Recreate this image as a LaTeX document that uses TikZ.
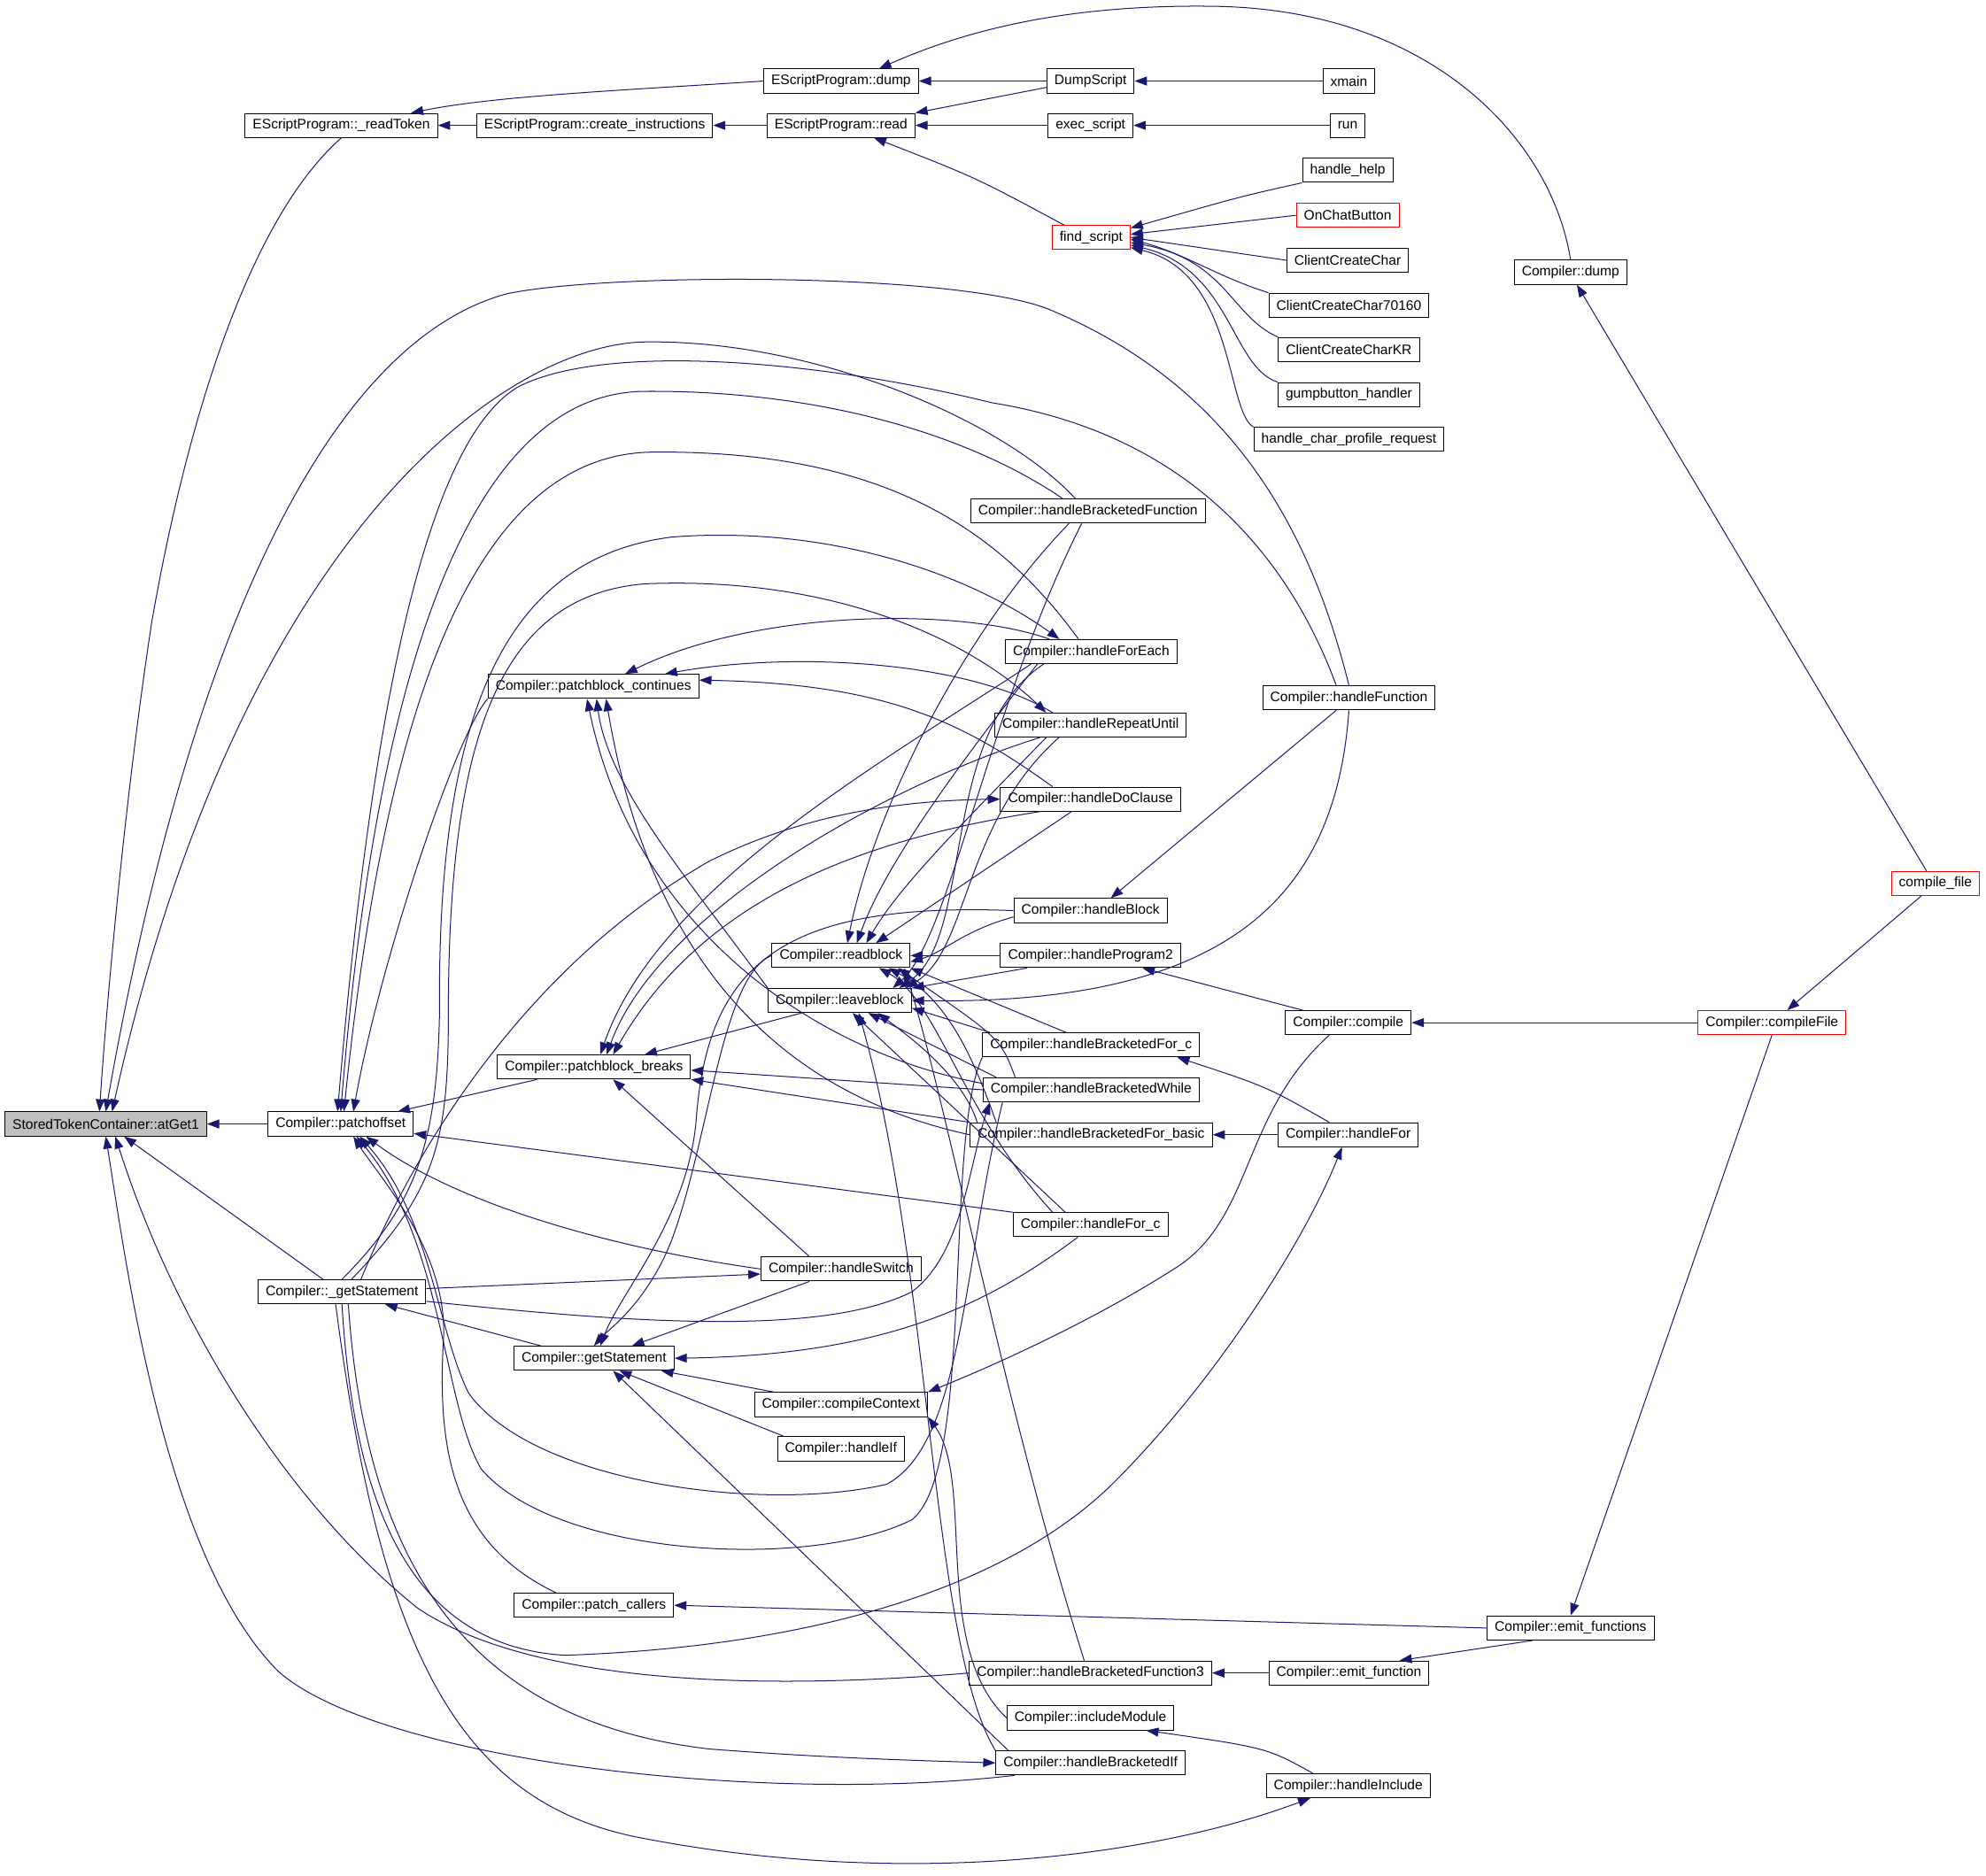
\documentclass[tikz,border=0pt]{standalone}
\usepackage{fontspec}
\setmainfont{Liberation Sans}
\usetikzlibrary{arrows.meta}
\definecolor{edgeblue}{RGB}{25,25,112}
\tikzset{
  fn/.style={draw=black, line width=0.4pt, rectangle, minimum height=0.38cm, inner xsep=0.12cm, inner ysep=0pt, font=\fontsize{6.2}{7}\selectfont},
  fnred/.style={fn, draw=red},
  fnroot/.style={fn, fill=black!25},
  call/.style={->, draw=edgeblue, line width=0.4pt},
}

\begin{document}
\begin{tikzpicture}[x=0.02cm, y=-0.02cm, >={Triangle[length=5.5pt, width=4pt]}]
\useasboundingbox (0,0) rectangle (1568,1481);
% functions
\node[fnroot] (atg) at (83.5,887.5) {StoredTokenContainer::atGet1};
\node[fn] (po) at (269,887.5) {Compiler::patchoffset};
\node[fn] (rt) at (269.5,99) {EScriptProgram::\_readToken};
\node[fn] (ci) at (469.5,99) {EScriptProgram::create\_instructions};
\node[fn] (ed) at (664,64) {EScriptProgram::dump};
\node[fn] (er) at (664,99) {EScriptProgram::read};
\node[fn] (ds) at (861,64) {DumpScript};
\node[fn] (xm) at (1065,64) {xmain};
\node[fn] (ex) at (861,99) {exec\_script};
\node[fn] (rn) at (1064,99) {run};
\node[fnred] (fs) at (861.5,187.5) {find\_script};
\node[fn] (hh) at (1064,134.5) {handle\_help};
\node[fnred] (oc) at (1064,170) {OnChatButton};
\node[fn] (c1) at (1064,205.5) {ClientCreateChar};
\node[fn] (c2) at (1065,241) {ClientCreateChar70160};
\node[fn] (c3) at (1065,276) {ClientCreateCharKR};
\node[fn] (gb) at (1065,311.5) {gumpbutton\_handler};
\node[fn] (hcp) at (1065,347) {handle\_char\_profile\_request};
\node[fn] (cd) at (1240,215) {Compiler::dump};
\node[fnred] (cf) at (1528,697.5) {compile\_file};
\node[fnred] (cff) at (1399,807.5) {Compiler::compileFile};
\node[fn] (cmp) at (1064.5,807.5) {Compiler::compile};
\node[fn] (hbf) at (859,403.5) {Compiler::handleBracketedFunction};
\node[fn] (hfe) at (861.5,514.5) {Compiler::handleForEach};
\node[fn] (pbc) at (468.5,542) {Compiler::patchblock\_continues};
\node[fn] (hru) at (861,572.5) {Compiler::handleRepeatUntil};
\node[fn] (hfn) at (1065,551) {Compiler::handleFunction};
\node[fn] (hdc) at (861,631) {Compiler::handleDoClause};
\node[fn] (hbl) at (861,719) {Compiler::handleBlock};
\node[fn] (rb) at (664,754.5) {Compiler::readblock};
\node[fn] (hpg) at (861,754.5) {Compiler::handleProgram2};
\node[fn] (lb) at (663,790) {Compiler::leaveblock};
\node[fn] (hbc) at (861.5,825) {Compiler::handleBracketedFor\_c};
\node[fn] (pbb) at (469,842.5) {Compiler::patchblock\_breaks};
\node[fn] (hbw) at (861.5,860.5) {Compiler::handleBracketedWhile};
\node[fn] (hbb) at (861.5,896) {Compiler::handleBracketedFor\_basic};
\node[fn] (hfr) at (1064.5,896) {Compiler::handleFor};
\node[fn] (hfc) at (861,967) {Compiler::handleFor\_c};
\node[fn] (hsw) at (664,1002) {Compiler::handleSwitch};
\node[fn] (ugs) at (270,1020) {Compiler::\_getStatement};
\node[fn] (gs) at (469,1072.5) {Compiler::getStatement};
\node[fn] (cctx) at (664,1109) {Compiler::compileContext};
\node[fn] (hif) at (664,1144) {Compiler::handleIf};
\node[fn] (pc) at (469,1267.5) {Compiler::patch\_callers};
\node[fn] (efs) at (1240,1285.5) {Compiler::emit\_functions};
\node[fn] (hb3) at (861,1321) {Compiler::handleBracketedFunction3};
\node[fn] (ef) at (1065,1321) {Compiler::emit\_function};
\node[fn] (im) at (861,1356.5) {Compiler::includeModule};
\node[fn] (hbi) at (861,1392) {Compiler::handleBracketedIf};
\node[fn] (hin) at (1064.5,1410) {Compiler::handleInclude};
%
% script side
\draw[call] (ci) -- (rt);
\draw[call] (er) -- (ci);
\draw[call] (ed.west) .. controls (480,72) and (390,76) .. ([xshift=1.1cm]rt.north);
\draw[call] (ds) -- (ed);
\draw[call] ([yshift=-0.1cm]ds.west) .. controls (780,78) .. (er.north east);
\draw[call] (xm) -- (ds);
\draw[call] (ex) -- (er);
\draw[call] (rn) -- (ex);
\draw[call] ([xshift=-0.43cm]fs.north) .. controls (770,140) .. ([xshift=0.52cm]er.south);
\draw[call] (hh.south west) .. controls (980,155) .. ([yshift=0.15cm]fs.east);
\draw[call] (oc.west) -- ([yshift=0.05cm]fs.east);
\draw[call] (c1.west) -- (fs.east);
\draw[call] (c2.north west) .. controls (960,218) and (935,200) .. ([yshift=-0.03cm]fs.east);
\draw[call] (c3.north west) .. controls (972,250) and (968,205) .. ([yshift=-0.08cm]fs.east);
\draw[call] (gb.north west) .. controls (972,290) and (972,212) .. ([yshift=-0.12cm]fs.east);
\draw[call] (hcp.north west) .. controls (968,325) and (975,215) .. ([yshift=-0.16cm]fs.east);
\draw[call] (cd.north) .. controls (1225,110) and (1130,8) .. (960,5) .. controls (840,3) and (760,25) .. ([xshift=0.6cm]ed.north);
\draw[call] ([xshift=-0.14cm]cf.north) -- ([xshift=0.1cm]cd.south);
\draw[call] ([xshift=-0.22cm]cf.south) -- ([xshift=0.24cm]cff.north);
\draw[call] (cff) -- (cmp);
\draw[call] (cff.south) -- (efs.north);
\draw[call] (efs.west) -- (pc.east);
\draw[call] ([xshift=-0.6cm]efs.south) -- ([xshift=0.8cm]ef.north);
\draw[call] (ef) -- (hb3);
\draw[call] ([xshift=-0.56cm]hin.north) .. controls (1000,1380) .. ([xshift=0.88cm]im.south);
\draw[call] (im.west) .. controls (735,1300) and (770,1170) .. (cctx.south east);
\draw[call] ([xshift=-0.3cm]cmp.south) .. controls (980,880) and (990,960) .. (930,1000) .. controls (860,1045) and (780,1080) .. (cctx.north east);
\draw[call] ([xshift=-0.72cm]cmp.north) -- ([xshift=0.82cm]hpg.south);
\draw[call] (hfr) -- (hbb);
\draw[call] ([xshift=-0.3cm]hfr.north) .. controls (1000,858) .. ([xshift=1.36cm]hbc.south);
\draw[call] ([xshift=-0.2cm]hfn.south) -- ([xshift=0.32cm]hbl.north);
\draw[call] (hfn.south) .. controls (1055,700) and (980,794) .. (lb.east);
%
% atGet1
\draw[call] (po) -- (atg);
\draw[call] (rt.south) .. controls (200,170) and (150,320) .. (120,490) .. controls (100,620) and (85,780) .. ([xshift=-0.1cm]atg.north);
\draw[call] (hfn.north) .. controls (1030,400) and (960,300) .. (830,245) .. controls (760,215) and (480,215) .. (400,232) .. controls (260,270) and (150,500) .. (atg.north);
\draw[call] ([xshift=-0.2cm]hbf.north) .. controls (790,330) and (640,268) .. (509,270) .. controls (400,272) and (190,420) .. ([xshift=0.1cm]atg.north);
\draw[call] ([xshift=-0.3cm]ugs.north) -- ([xshift=0.29cm]atg.south);
\draw[call] ([xshift=-1.2cm]hbi.south) .. controls (600,1425) and (300,1390) .. (220,1320) .. controls (130,1230) and (100,1000) .. (atg.south);
\draw[call] (hb3.west) .. controls (600,1335) and (420,1330) .. (330,1270) .. controls (230,1190) and (140,1050) .. ([xshift=0.15cm]atg.south);
%
% patchoffset
\draw[call] ([xshift=-0.2cm]hfn.north) .. controls (1010,420) and (920,340) .. (783,318) .. controls (650,285) and (480,270) .. (410,305) .. controls (330,350) and (290,600) .. ([xshift=-0.05cm]po.north);
\draw[call] ([xshift=-0.4cm]hbf.north) .. controls (760,340) and (640,308) .. (509,309) .. controls (380,310) and (300,500) .. (po.north);
\draw[call] ([xshift=-0.2cm]hfe.north) .. controls (790,420) and (700,355) .. (514,357) .. controls (360,360) and (300,600) .. ([xshift=0.05cm]po.north);
\draw[call] (pbc.south west) .. controls (360,580) and (300,760) .. ([xshift=0.2cm]po.north);
\draw[call] ([xshift=-0.9cm]pbb.south) -- ([xshift=0.9cm]po.north);
\draw[call] (hfc.north west) -- ([yshift=-0.15cm]po.east);
\draw[call] (hsw.west) .. controls (480,985) and (360,950) .. ([xshift=0.4cm]po.south);
\draw[call] ([xshift=-0.6cm]pc.north) .. controls (360,1220) and (345,1150) .. (350,1060) .. controls (355,990) and (300,930) .. ([xshift=0.2cm]po.south);
\draw[call] ([xshift=-1.4cm]hbw.south) .. controls (760,1000) and (760,1140) .. (700,1172) .. controls (600,1195) and (420,1170) .. (370,1100) .. controls (345,1050) and (340,960) .. ([xshift=0.3cm]po.south);
\draw[call] (hbc.south west) .. controls (745,900) and (770,1160) .. (720,1200) .. controls (640,1240) and (440,1230) .. (380,1160) .. controls (350,1110) and (350,980) .. ([xshift=0.25cm]po.south);
%
% patchblock_continues
\draw[call] ([xshift=-0.66cm]hfe.north) .. controls (760,480) and (600,480) .. ([xshift=0.5cm]pbc.north);
\draw[call] ([xshift=-0.6cm]hru.north) .. controls (760,520) and (620,515) .. ([xshift=1.13cm]pbc.north);
\draw[call] ([xshift=-0.6cm]hdc.north) .. controls (760,570) and (700,540) .. ([yshift=0.1cm]pbc.east);
\draw[call] (lb.north west) .. controls (540,690) and (480,620) .. ([xshift=0.05cm]pbc.south);
\draw[call] ([yshift=0.1cm]hbw.west) .. controls (640,830) and (500,730) .. ([xshift=-0.1cm]pbc.south);
\draw[call] (hbb.west) .. controls (600,860) and (510,740) .. ([xshift=0.2cm]pbc.south);
%
% patchblock_breaks
\draw[call] ([xshift=-0.6cm]lb.south) -- ([xshift=0.8cm]pbb.north);
\draw[call] (hbw.west) -- ([yshift=-0.05cm]pbb.east);
\draw[call] (hbb.north west) -- (pbb.south east);
\draw[call] ([xshift=-0.5cm]hsw.north) -- ([xshift=0.3cm]pbb.south);
\draw[call] ([xshift=-0.95cm]hfe.south) .. controls (700,600) and (520,700) .. ([xshift=0.1cm]pbb.north);
\draw[call] ([xshift=-0.8cm]hru.south) .. controls (700,620) and (520,720) .. ([xshift=0.2cm]pbb.north);
\draw[call] ([xshift=-0.8cm]hdc.south) .. controls (700,660) and (560,700) .. ([xshift=0.3cm]pbb.north);
%
% readblock
\draw[call] ([xshift=-0.3cm]hbf.south) .. controls (760,500) and (690,640) .. ([xshift=0.1cm]rb.north);
\draw[call] ([xshift=-0.85cm]hfe.south) .. controls (760,600) and (700,680) .. ([xshift=0.25cm]rb.north);
\draw[call] ([xshift=-0.7cm]hru.south) .. controls (760,650) and (710,700) .. ([xshift=0.4cm]rb.north);
\draw[call] ([xshift=-0.3cm]hdc.south) -- ([xshift=0.55cm]rb.north);
\draw[call] (hpg) -- (rb);
\draw[call] ([yshift=-0.1cm]hbl.west) .. controls (760,735) and (745,752) .. ([yshift=-0.1cm]rb.east);
\draw[call] ([xshift=-0.4cm]hbc.north) -- (rb.south east);
\draw[call] ([xshift=-1.2cm]hbw.north) .. controls (790,820) .. ([xshift=0.9cm]rb.south);
\draw[call] ([xshift=-1.5cm]hbb.north) .. controls (770,840) and (750,790) .. ([xshift=0.75cm]rb.south);
\draw[call] ([xshift=-0.6cm]hfc.north) .. controls (760,880) and (740,790) .. ([xshift=0.6cm]rb.south);
\draw[call] ([xshift=-0.1cm]hb3.north) .. controls (790,1100) and (750,880) .. ([xshift=1.0cm]rb.south);
%
% leaveblock
\draw[call] ([xshift=-0.1cm]hbf.south) .. controls (780,560) and (750,740) .. ([xshift=-0.3cm]lb.north east);
\draw[call] ([xshift=-0.75cm]hfe.south) .. controls (740,580) and (770,740) .. ([xshift=-0.2cm]lb.north east);
\draw[call] ([xshift=-0.5cm]hru.south) .. controls (760,650) and (765,750) .. ([xshift=-0.1cm]lb.north east);
\draw[call] ([xshift=-1.0cm]hpg.south) -- (lb.north east);
\draw[call] ([xshift=-1.6cm]hbc.north) -- ([yshift=-0.12cm]lb.east);
\draw[call] ([xshift=-1.5cm]hbw.north) -- ([xshift=0.45cm]lb.south);
\draw[call] ([xshift=-1.8cm]hbb.north) .. controls (760,850) and (720,820) .. ([xshift=0.6cm]lb.south);
\draw[call] ([xshift=-0.4cm]hfc.north) -- ([xshift=0.2cm]lb.south);
\draw[call] (hbi.north west) .. controls (735,1300) and (735,1000) .. ([xshift=0.3cm]lb.south);
%
% getStatement
\draw[call] (hbl.west) .. controls (620,712) and (560,760) .. (550,880) .. controls (545,960) and (490,1020) .. ([xshift=0.1cm]gs.north);
\draw[call] (rb.west) .. controls (570,770) and (560,900) .. (530,980) .. controls (510,1030) and (480,1050) .. (gs.north);
\draw[call] ([xshift=-0.5cm]hsw.south) -- ([xshift=0.6cm]gs.north);
\draw[call] ([xshift=-0.2cm]hfc.south) .. controls (780,1030) and (700,1070) .. (gs.east);
\draw[call] ([xshift=-1.06cm]cctx.north) -- ([xshift=1.06cm]gs.south);
\draw[call] ([xshift=-0.9cm]hif.north) -- ([xshift=0.4cm]gs.south);
\draw[call] ([xshift=-1.3cm]hbi.north) -- ([xshift=0.3cm]gs.south);
\draw[call] ([xshift=-0.84cm]gs.north) -- ([xshift=0.68cm]ugs.south);
%
% _getStatement
\draw[call] ([yshift=0.05cm]ugs.east) -- ([yshift=-0.08cm]hsw.west);
\draw[call] ([xshift=0.3cm]ugs.north) .. controls (330,900) and (420,760) .. (560,680) .. controls (640,640) and (720,632) .. (hdc.west);
\draw[call] (ugs.north) .. controls (330,950) and (345,900) .. (347,800) .. controls (345,560) and (400,440) .. (531,424) .. controls (650,415) and (760,450) .. ([xshift=-0.5cm]hfe.north);
\draw[call] ([xshift=0.15cm]ugs.north) .. controls (345,940) and (354,900) .. (354,800) .. controls (354,570) and (400,470) .. (509,461) .. controls (650,455) and (760,500) .. ([xshift=-0.7cm]hru.north);
\draw[call] ([yshift=-0.15cm]ugs.east) .. controls (500,1045) and (650,1055) .. (720,1020) .. controls (760,990) and (765,920) .. ([xshift=-1.6cm]hbw.south);
\draw[call] (ugs.south) .. controls (280,1200) and (330,1300) .. (446,1307) .. controls (650,1300) and (800,1250) .. (880,1170) .. controls (960,1090) and (1030,980) .. ([xshift=-0.1cm]hfr.south);
\draw[call] ([xshift=0.1cm]ugs.south) .. controls (290,1250) and (380,1360) .. (560,1381) .. controls (650,1388) and (720,1390) .. (hbi.west);
\draw[call] ([xshift=-0.1cm]ugs.south) .. controls (300,1300) and (360,1420) .. (500,1450) .. controls (700,1490) and (900,1470) .. ([xshift=-0.6cm]hin.south);
\end{tikzpicture}
\end{document}
